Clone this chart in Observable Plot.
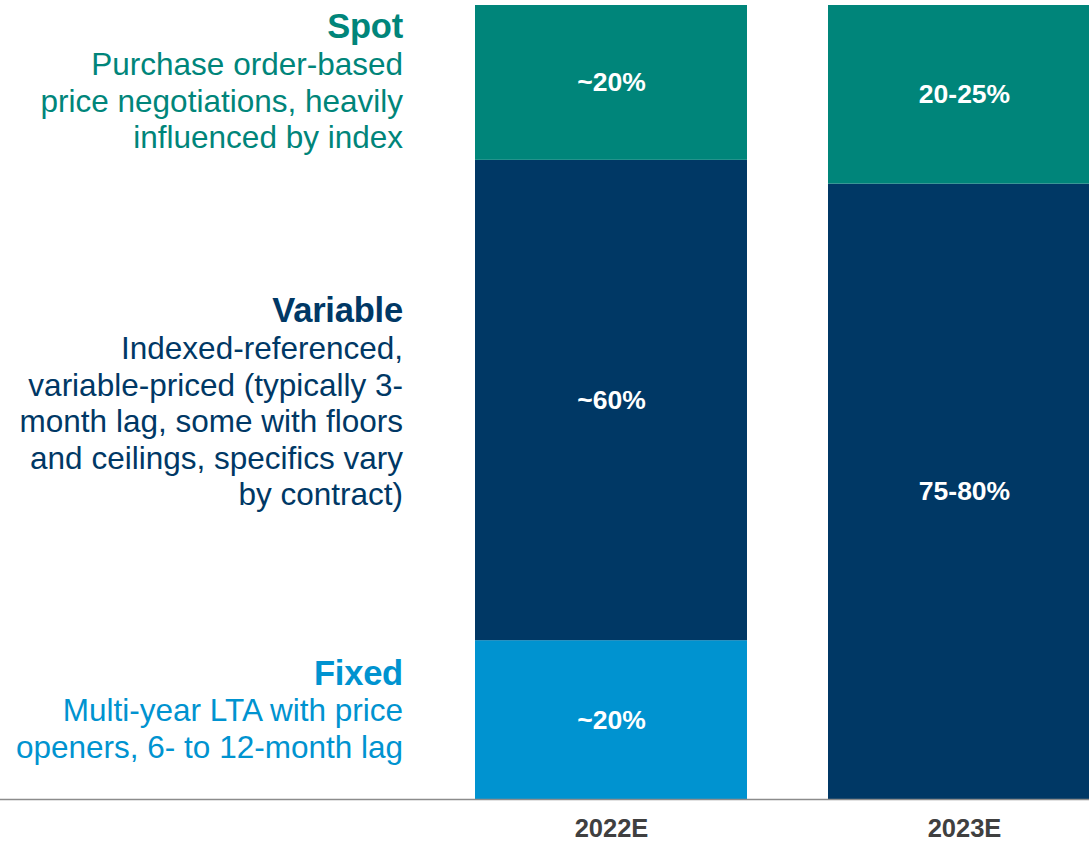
<!DOCTYPE html>
<html>
<head>
<meta charset="utf-8">
<script src="https://cdn.jsdelivr.net/npm/d3@7"></script>
<script src="https://cdn.jsdelivr.net/npm/@observablehq/plot@0.6"></script>
<style>
  html, body { margin: 0; padding: 0; background: #fff; overflow: hidden; }
  #wrap { position: relative; width: 1089px; height: 843px; font-family: "Liberation Sans", Arial, sans-serif; }
  #wrap svg { position: absolute; left: 0; top: 0; overflow: hidden; }
  .t { position: absolute; right: 686px; white-space: nowrap; line-height: 1; text-align: right; }
  .ttl { font-weight: bold; font-size: 34.5px; letter-spacing: -0.2px; }
  .dsc { font-size: 31.5px; }
</style>
</head>
<body>
<div id="wrap"></div>
<script>
// ---- data ----
const years = ["2022E", "2023E"];
const segments = ["Fixed", "Variable", "Spot"];
const segmentColors = ["#0093D0", "#003865", "#00857A"];
const fixedShare = [20, 0];
const variableShare = [60.5, 77.5];
const spotShare = [19.5, 22.5];
const fixedLabels = ["~20%", ""];
const variableLabels = ["~60%", "75-80%"];
const spotLabels = ["~20%", "20-25%"];

const spotTitle = "Spot";
const spotLines = ["Purchase order-based", "price negotiations, heavily", "influenced by index"];
const variableTitle = "Variable";
const variableLines = ["Indexed-referenced,", "variable-priced (typically 3-", "month lag, some with floors", "and ceilings, specifics vary", "by contract)"];
const fixedTitle = "Fixed";
const fixedLines = ["Multi-year LTA with price", "openers, 6- to 12-month lag"];

// ---- table ----
const shares = [fixedShare, variableShare, spotShare];
const labels = [fixedLabels, variableLabels, spotLabels];
const rows = [];
years.forEach((yr, i) => {
  segments.forEach((seg, j) => {
    rows.push({year: yr, segment: seg, value: shares[j][i], label: labels[j][i]});
  });
});

const W = 1089, H = 843;
const chart = Plot.plot({
  width: W,
  height: H,
  marginLeft: 0,
  marginRight: 0,
  marginTop: 5,
  marginBottom: 44,
  style: {fontFamily: "'Liberation Sans', Arial, sans-serif", background: "white", overflow: "hidden"},
  x: {type: "band", domain: years, range: [475, 1100], paddingInner: 0.23, paddingOuter: 0, align: 0, label: null},
  y: {domain: [0, 100], axis: null},
  color: {domain: segments, range: segmentColors},
  marks: [
    Plot.barY(rows, Plot.stackY({x: "year", y: "value", fill: "segment", clip: "frame"})),
    Plot.text(rows.filter(d => d.value > 0), Plot.stackY({
      x: "year", y: "value", z: "segment", text: "label",
      fill: "white", fontSize: 26.5, fontWeight: "bold", clip: "frame"
    })),
    Plot.ruleY([0], {stroke: "#8c8c8c", strokeWidth: 1.5}),
    Plot.axisX({tickSize: 0, tickPadding: 19, fontSize: 25.5, fontWeight: "bold", fill: "#404040", label: null})
  ]
});
const wrap = document.getElementById("wrap");
wrap.appendChild(chart);

// ---- left-side descriptions ----
function addText(txt, cls, color, baseline, size) {
  const d = document.createElement("div");
  d.className = "t " + cls;
  d.style.color = color;
  d.style.top = (baseline - 0.8465 * size) + "px";
  d.textContent = txt;
  wrap.appendChild(d);
}
function addBlock(title, lines, color, titleBase, firstBase, step) {
  addText(title, "ttl", color, titleBase, 34.5);
  lines.forEach((l, i) => addText(l, "dsc", color, firstBase + i * step, 31.5));
}
addBlock(spotTitle, spotLines, segmentColors[2], 38, 76, 36.5);
addBlock(variableTitle, variableLines, segmentColors[1], 322, 360, 36.5);
addBlock(fixedTitle, fixedLines, segmentColors[0], 685, 722, 36.5);
</script>
</body>
</html>
